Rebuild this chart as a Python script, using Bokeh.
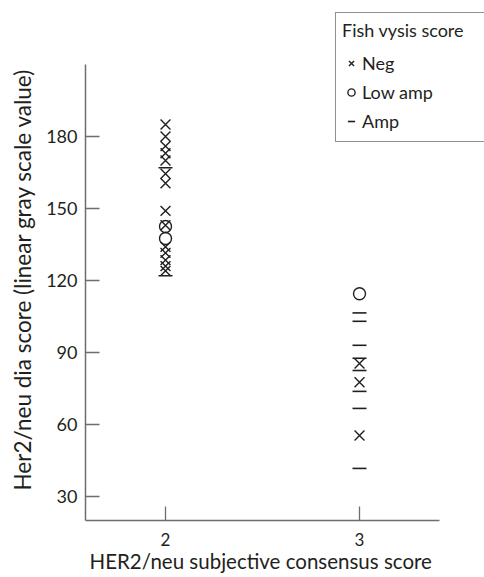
from bokeh.plotting import figure
from bokeh.models import Legend, LegendItem, FixedTicker, Range1d, Title
from bokeh.embed import file_html
from bokeh.resources import INLINE

# Data: (consensus score, dia score)
neg_x = [2, 2, 2, 2, 2, 2, 2, 2, 2, 2, 2, 2, 2, 2, 3, 3, 3]
neg_y = [185, 180, 176, 173, 170, 164.5, 160.5, 149, 143, 134, 131.5, 128.5, 126, 124, 85.4, 77.6, 55.4]
low_x = [2, 2, 3]
low_y = [142.5, 137.5, 114.5]
amp_x = [2, 2, 3, 3, 3, 3, 3, 3, 3, 3]
amp_y = [167, 122, 106.5, 103, 93, 87.6, 82.5, 73.8, 66.7, 41.7]
x_ticks = [2, 3]
y_ticks = [30, 60, 90, 120, 150, 180]

FONT = "Lato"
INK = "#231f20"
AXIS = "#6d6e71"

p = figure(width=484, height=577, output_backend="svg", toolbar_location=None,
           x_range=Range1d(1.5876, 3.6443), y_range=Range1d(20, 236.67),
           min_border_left=85, min_border_right=0, min_border_top=0, min_border_bottom=57)
p.outline_line_color = None
p.grid.grid_line_color = None
p.background_fill_color = "white"
p.border_fill_color = "white"

for ax in (p.xaxis[0], p.yaxis[0]):
    ax.axis_line_color = AXIS
    ax.axis_line_width = 1.5
    ax.major_tick_line_color = AXIS
    ax.major_tick_line_width = 1.3
    ax.major_tick_in = 14
    ax.major_tick_out = 0
    ax.minor_tick_line_color = None
    ax.major_label_text_font = FONT
    ax.major_label_text_color = INK

p.xaxis.major_label_text_font_size = "17px"
p.yaxis.major_label_text_font_size = "18px"
p.xaxis.bounds = (1.5876, 3.412)
p.yaxis.bounds = (20, 210)
p.xaxis.ticker = FixedTicker(ticks=x_ticks)
p.yaxis.ticker = FixedTicker(ticks=y_ticks)
p.xaxis.major_label_standoff = 12
p.yaxis.major_label_standoff = 8

xtitle = Title(text="HER2/neu subjective consensus score", align="left", offset=4,
               text_font=FONT, text_font_size="20.5px", text_font_style="normal",
               text_color=INK, standoff=0, vertical_align="top")
ytitle = Title(text="Her2/neu dia score (linear gray scale value)", align="left", offset=30,
               text_font=FONT, text_font_size="22.5px", text_font_style="normal",
               text_color=INK, standoff=13, vertical_align="middle")
p.add_layout(xtitle, "below")
p.add_layout(ytitle, "left")

r_neg = p.scatter(neg_x, neg_y, marker="x", size=14, line_color=INK, line_width=1.4)
r_low = p.scatter(low_x, low_y, marker="circle", size=12, fill_color=None, line_color=INK, line_width=1.4)
r_amp = p.scatter(amp_x, amp_y, marker="dash", size=14, line_color=INK, line_width=1.6)

legend = Legend(items=[LegendItem(label="Neg", renderers=[r_neg]),
                       LegendItem(label="Low amp", renderers=[r_low]),
                       LegendItem(label="Amp", renderers=[r_amp])],
                location=(250, 378), title="Fish vysis score")
legend.title_text_font = FONT
legend.title_text_font_size = "18px"
legend.title_text_font_style = "normal"
legend.title_text_color = INK
legend.label_text_font = FONT
legend.label_text_font_size = "18px"
legend.label_text_color = INK
legend.border_line_color = INK
legend.border_line_width = 1.2
legend.background_fill_alpha = 1
legend.padding = 6
legend.spacing = 1
legend.glyph_width = 18
legend.glyph_height = 28
legend.label_standoff = 2
legend.label_width = 160
legend.margin = 0
legend.title_standoff = 8
p.add_layout(legend, "center")

open("out.html", "w").write(file_html(p, INLINE))
